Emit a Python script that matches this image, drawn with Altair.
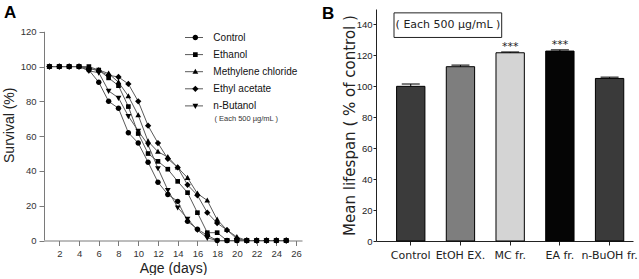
import altair as alt
import pandas as pd

# ---------------- Panel A: survival curves ----------------
days = list(range(1, 26))
series_names = ["Control", "Ethanol", "Methylene chloride", "Ethyl acetate", "n-Butanol"]

control = [100, 100, 100, 100, 98, 91, 80, 76, 62, 56, 45, 33.5, 26.5, 22.5, 11, 6.5, 3, 0, 0, 0, 0, 0, 0, 0, 0]
ethanol = [100, 100, 100, 100, 100, 98, 93.5, 89, 77, 61.5, 50, 45.5, 41, 34, 27.5, 16, 4.5, 4.5, 0, 0, 0, 0, 0, 0, 0]
methylene = [100, 100, 100, 100, 99, 98, 96, 91, 83, 72, 57, 51, 48, 42, 36, 27, 23, 12, 6, 2, 0, 0, 0, 0, 0]
ethyl_acetate = [100, 100, 100, 100, 99, 97.5, 95, 94, 90, 80, 66, 56, 47, 42, 32, 26, 16, 10, 6, 1, 0, 0, 0, 0, 0]
butanol = [100, 100, 100, 100, 97.5, 96.5, 86, 82, 71.5, 63, 55, 41.5, 29, 19, 12.5, 6, 1.5, 0, 0, 0, 0, 0, 0, 0, 0]

survival = {
    "Control": control,
    "Ethanol": ethanol,
    "Methylene chloride": methylene,
    "Ethyl acetate": ethyl_acetate,
    "n-Butanol": butanol,
}

dose_note = "( Each 500 µg/mL )"

# ---------------- Panel B: mean lifespan ----------------
groups = ["Control", "EtOH EX.", "MC fr.", "EA fr.", "n-BuOH fr."]
lifespan = [100.0, 112.7, 121.7, 122.8, 105.1]
sem = [1.5, 1.0, 0.5, 0.8, 0.8]
signif = ["", "", "***", "***", ""]

NARROW = "Liberation Sans Narrow, Liberation Sans"

# Ethanol rows come last so its squares sit on top where curves overlap
draw_order = ["Control", "Methylene chloride", "Ethyl acetate", "n-Butanol", "Ethanol"]
rows = []
for name in draw_order:
    for d, v in zip(days, survival[name]):
        rows.append({"day": d, "survival": v, "series": name, "curve": name})
surv = pd.DataFrame(rows)

marker_paths = {
    "Control": "M-1,0A1,1,0,1,0,1,0A1,1,0,1,0,-1,0Z",
    "Ethanol": "M-0.85,-0.85H0.85V0.85H-0.85Z",
    "Methylene chloride": "M0,-1.1L1.05,0.75L-1.05,0.75Z",
    "Ethyl acetate": "M0,-1.15L1.15,0L0,1.15L-1.15,0Z",
    "n-Butanol": "M0,1.1L1.05,-0.75L-1.05,-0.75Z",
}
shape_range = [marker_paths[n] for n in series_names]

# the survival axis line stops at 120 while the plot area reaches higher
Y_TOP = 133.1

axis_a = dict(
    grid=False, domainColor="#7a7a7a", tickColor="#7a7a7a", labelColor="#333333",
    labelFont=NARROW, labelFontSize=9.5, tickSize=5, labelPadding=3,
    titleFont="Liberation Sans", titleFontSize=14, titleFontWeight="normal", titleColor="#222222",
)

def xa(field="day"):
    return alt.X(f"{field}:Q",
                 scale=alt.Scale(domain=[0.45, 26.6], nice=False, zero=False),
                 axis=alt.Axis(values=list(range(2, 27, 2)), title="Age (days)", titlePadding=3, **axis_a))

def ya(field="survival"):
    return alt.Y(f"{field}:Q",
                 scale=alt.Scale(domain=[0, Y_TOP], nice=False),
                 axis=alt.Axis(values=list(range(0, 121, 20)), title="Survival (%)", titlePadding=4,
                               domain=False, **axis_a))

LEG_Y = 22.5

# line legend: only the short line segments behind the marker keys
# (its domain is listed in reverse so it stays a separate legend from the markers)
lines = alt.Chart(surv).mark_line(strokeWidth=1).encode(
    x=xa(), y=ya(), detail="series:N", order="day:Q",
    color=alt.Color(
        "curve:N",
        scale=alt.Scale(domain=series_names[::-1], range=["#5a5a5a"] * len(series_names)),
        legend=alt.Legend(
            orient="none", legendX=140.5, legendY=LEG_Y, title=None, padding=0,
            symbolType="stroke", symbolSize=324, symbolStrokeWidth=1,
            labelExpr="''", labelFontSize=10, labelOffset=0,
            clipHeight=12, rowPadding=5.1, zindex=0,
        ),
    ),
)

points = alt.Chart(surv).mark_point(filled=True, size=30, color="black", opacity=1).encode(
    x=xa(), y=ya(),
    shape=alt.Shape(
        "series:N",
        scale=alt.Scale(domain=series_names, range=shape_range),
        legend=alt.Legend(
            orient="none", legendX=146.35, legendY=LEG_Y, title=None, padding=0,
            labelFont="Liberation Sans", labelFontSize=10, labelColor="#111111",
            labelOffset=13, symbolSize=30, symbolFillColor="black",
            clipHeight=12, rowPadding=5.1, zindex=1,
        ),
    ),
)

axis_line = alt.Chart(pd.DataFrame({"lo": [0], "hi": [120]})).mark_rule(
    color="#7a7a7a", strokeWidth=1
).encode(x=alt.value(0.5), y=ya("lo"), y2="hi:Q")

note = alt.Chart(pd.DataFrame({"day": [17.72], "survival": [70.0], "text": [dose_note]})).mark_text(
    align="left", baseline="middle", font="Liberation Sans", fontSize=7.5, color="#333333"
).encode(x=xa(), y=ya(), text="text:N")

label_a = alt.Chart(pd.DataFrame({"panel": ["A"]})).mark_text(
    align="left", baseline="alphabetic", font="Liberation Sans", fontSize=17, fontWeight="bold", color="black"
).encode(x=alt.value(-40), y=alt.value(8.5), text="panel:N")

panel_a = alt.layer(axis_line, lines, points, note, label_a).properties(width=258, height=231.5)

# ---------------- Panel B ----------------
bdf = pd.DataFrame({"group": groups, "lifespan": lifespan, "sem": sem, "sig": signif})
bdf["upper"] = bdf["lifespan"] + bdf["sem"]

bar_colors = ["#3b3b3b", "#7e7e7e", "#d4d4d4", "#050505", "#3a3a3a"]

axis_b = dict(
    grid=False, domainColor="#222222", tickColor="#222222", labelColor="#222222",
    titleFont="DejaVu Sans", titleFontWeight="normal", titleColor="#222222",
)

def xb():
    return alt.X("group:N", sort=groups,
                 scale=alt.Scale(domain=groups, paddingInner=0.43, paddingOuter=0.3, align=0.69),
                 axis=alt.Axis(title=None, labelAngle=0, labelFont="DejaVu Sans", labelFontSize=11,
                               tickSize=4, labelPadding=4, **axis_b))

def yb(field="lifespan"):
    return alt.Y(f"{field}:Q",
                 scale=alt.Scale(domain=[0, 150], nice=False),
                 axis=alt.Axis(values=list(range(0, 141, 20)), title="Mean lifespan ( % of control )",
                               labelFont=NARROW, labelFontSize=9.5, tickSize=3, labelPadding=1,
                               titleFontSize=15, titleX=-19, **axis_b))

base_b = alt.Chart(bdf)

bars = base_b.mark_bar(stroke="black", strokeWidth=1).encode(
    x=xb(), y=yb(),
    fill=alt.Fill("group:N", scale=alt.Scale(domain=groups, range=bar_colors), legend=None),
)
err = base_b.mark_rule(color="black", strokeWidth=1).encode(x=xb(), y=yb(), y2="upper:Q")
caps = base_b.mark_tick(color="black", thickness=1.5, size=18).encode(x=xb(), y=yb("upper"))
stars = base_b.mark_text(baseline="alphabetic", dy=-2, font="DejaVu Sans", fontSize=11, color="#222222").encode(
    x=xb(), y=yb("upper"), text="sig:N"
)

box_df = pd.DataFrame({"lo": [131.6], "hi": [147.5], "mid": [139.6], "text": [dose_note]})
box = alt.Chart(box_df).mark_rect(fill="white", fillOpacity=0, stroke="#222222", strokeWidth=1).encode(
    x=alt.value(18), x2=alt.value(125.7), y=yb("lo"), y2="hi:Q"
)
box_text = alt.Chart(box_df).mark_text(
    align="center", baseline="middle", font="DejaVu Sans", fontSize=11, color="#222222"
).encode(x=alt.value(72), y=yb("mid"), text="text:N")

label_b = alt.Chart(pd.DataFrame({"panel": ["B"]})).mark_text(
    align="left", baseline="alphabetic", font="Liberation Sans", fontSize=17, fontWeight="bold", color="black"
).encode(x=alt.value(-54), y=alt.value(9.5), text="panel:N")

panel_b = alt.layer(bars, err, caps, stars, box, box_text, label_b).properties(width=257, height=232)

chart = alt.hconcat(panel_a, panel_b, spacing=20).resolve_scale(
    color="independent", fill="independent", shape="independent"
).properties(
    padding={"left": 2, "top": 3, "right": 0, "bottom": 0}
).configure_view(strokeWidth=0)

chart.save("out.html", embed_options={"renderer": "svg", "actions": False})
